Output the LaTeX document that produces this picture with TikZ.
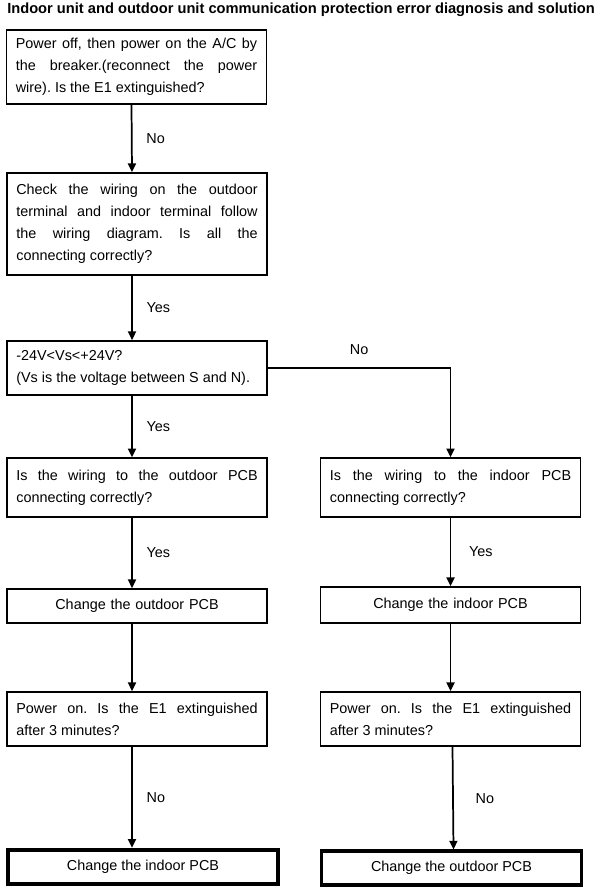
\documentclass[tikz,border=0pt]{standalone}
\usepackage{fontspec}
\setmainfont{Liberation Sans}
\usetikzlibrary{arrows.meta}
\frenchspacing

\begin{document}
\begin{tikzpicture}[x=0.75pt,y=-0.75pt,>={Triangle[length=6.5pt,width=6pt]},line width=1.3pt,
 font=\fontsize{10.8}{16.5}\selectfont,
 box/.style={draw,text width=181pt,inner xsep=7pt,inner ysep=0pt,align=justify},
 endbox/.style={draw,line width=2.8pt,align=center,inner sep=0pt},
 lbl/.style={right,xshift=7pt}]
\useasboundingbox (0,0) rectangle (600,888);
\node[font=\bfseries\fontsize{11}{12}\selectfont] (title) at (301,10) {Indoor unit and outdoor unit communication protection error diagnosis and solution};
% left column
\node[box,minimum height=55.5pt] (off) at (136.5,67) {Power off, then power on the A/C by\linebreak the breaker.(reconnect the power\linebreak wire). Is the E1 extinguished?};
\node[box,minimum height=76.5pt] (wire) at (137,224) {Check the wiring on the outdoor\linebreak terminal and indoor terminal follow\linebreak the wiring diagram. Is all the\linebreak connecting correctly?};
\node[box,minimum height=40.5pt] (volt) at (137,368) {-24V<Vs<+24V?\newline (Vs is the voltage between S and N).};
\node[box,minimum height=44pt] (outpcb) at (137,487.5) {Is the wiring to the outdoor PCB\linebreak connecting correctly?};
\node[box,align=center,minimum height=25.5pt] (chout) at (137,606) {Change the outdoor PCB};
\node[box,minimum height=40.5pt] (onl) at (137,719) {Power on. Is the E1 extinguished\linebreak after 3 minutes?};
\node[endbox,minimum width=203pt,minimum height=26pt] (endl) at (143,867) {Change the indoor PCB};
% right column
\node[box,minimum height=44pt] (inpcb) at (450.5,487.5) {Is the wiring to the indoor PCB\linebreak connecting correctly?};
\node[box,align=center,minimum height=27pt] (chin) at (450.5,605) {Change the indoor PCB};
\node[box,minimum height=40.5pt] (onr) at (450.5,719) {Power on. Is the E1 extinguished\linebreak after 3 minutes?};
\node[endbox,minimum width=195pt,minimum height=25pt] (endr) at (451.5,868) {Change the outdoor PCB};
% connectors
\draw[->] ([xshift=-3.75pt]off.south) -- node[lbl]{No} ([xshift=-3.75pt]wire.north);
\draw[->] ([xshift=-3.75pt]wire.south) -- node[lbl]{Yes} ([xshift=-3.75pt]volt.north);
\draw[->] ([xshift=-3.75pt]volt.south) -- node[lbl]{Yes} ([xshift=-3.75pt]outpcb.north);
\draw[->] ([xshift=-3.75pt]outpcb.south) -- node[lbl]{Yes} ([xshift=-3.75pt]chout.north);
\draw[->] ([xshift=-3.75pt]chout.south) -- ([xshift=-3.75pt]onl.north);
\draw[->] ([xshift=-3.75pt]onl.south) -- node[lbl]{No} ([xshift=-8.25pt]endl.north);
\draw[->] (volt.east) -| node[pos=0.25,above=6pt]{No} (inpcb.north);
\draw[->] (inpcb) -- node[lbl,xshift=3pt]{Yes} (chin);
\draw[->] (chin) -- (onr);
\draw[->] ([xshift=1.5pt]onr.south) -- node[lbl,xshift=6pt]{No} ([xshift=1.5pt]endr.north);
\end{tikzpicture}
\end{document}
